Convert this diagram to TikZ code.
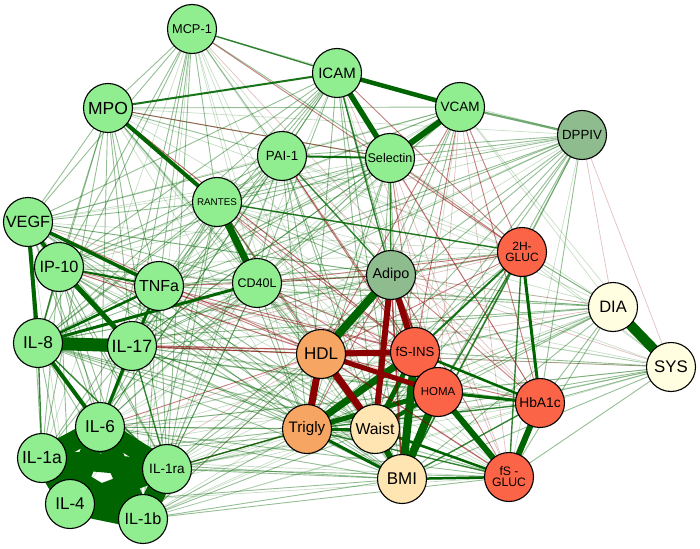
\documentclass[tikz,border=0pt]{standalone}
\usepackage{fontspec}
\setmainfont{Liberation Sans}
\pgfdeclarelayer{bg}
\pgfsetlayers{bg,main}
\definecolor{lg}{RGB}{144,238,144}
\definecolor{sg}{RGB}{143,188,143}
\definecolor{orn}{RGB}{246,166,98}
\definecolor{tom}{RGB}{252,100,72}
\definecolor{moc}{RGB}{254,229,178}
\definecolor{lyl}{RGB}{255,254,224}
\definecolor{dg}{RGB}{0,100,0}
\definecolor{dr}{RGB}{139,0,0}
\tikzset{
 nd/.style={circle, draw=black, line width=1.1pt, minimum size=49pt, inner sep=0pt, align=center},
 fs/.style={font=\fontsize{#1}{#1}\selectfont},
 tg/.style={draw=dg, line width=0.9pt, draw opacity=0.42},
 fgr/.style={draw=dg, line width=0.7pt, draw opacity=0.22},
 mgr/.style={draw=dg, line width=1.4pt, draw opacity=0.8},
 tred/.style={draw=dr, line width=0.9pt, draw opacity=0.5},
 fred/.style={draw=dr, line width=0.7pt, draw opacity=0.25},
}
\begin{document}
\begin{tikzpicture}[x=1pt,y=-1pt]
\useasboundingbox (0,0) rectangle (700,548);
% nodes
\node[nd, fill=lg, fs=12.8] (mcp) at (192,29) {MCP-1};
\node[nd, fill=lg, fs=15] (icam) at (337,73) {ICAM};
\node[nd, fill=lg, fs=17.5] (mpo) at (108,108) {MPO};
\node[nd, fill=lg, fs=13.5] (vcam) at (460,107) {VCAM};
\node[nd, fill=sg, fs=13.3] (dppiv) at (582,135) {DPPIV};
\node[nd, fill=lg, fs=13.3] (pai) at (282,156) {PAI-1};
\node[nd, fill=lg, fs=12.6] (sel) at (390,158) {Selectin};
\node[nd, fill=lg, fs=9.8] (rantes) at (217,202) {RANTES};
\node[nd, fill=lg, fs=16.3] (vegf) at (28,222) {VEGF};
\node[nd, fill=tom, font=\fontsize{12}{11}\selectfont] (gluc2) at (522,252) {2H-\\GLUC};
\node[nd, fill=lg, fs=16.3] (ip) at (59,267) {IP-10};
\node[nd, fill=sg, fs=14.4] (adipo) at (391,275) {Adipo};
\node[nd, fill=lg, fs=12.5] (cd) at (257,283) {CD40L};
\node[nd, fill=lg, fs=16] (tnf) at (159,286) {TNFa};
\node[nd, fill=lyl, fs=16.5] (dia) at (613,307) {DIA};
\node[nd, fill=lg, fs=17.2] (il8) at (38,343) {IL-8};
\node[nd, fill=lg, fs=17.8] (il17) at (132,346) {IL-17};
\node[nd, fill=orn, fs=17] (hdl) at (321,354) {HDL};
\node[nd, fill=tom, fs=13.2] (ins) at (415,352) {fS-INS};
\node[nd, fill=lyl, fs=16.8] (sys) at (671,367) {SYS};
\node[nd, fill=tom, fs=11.5] (homa) at (438,392) {HOMA};
\node[nd, fill=tom, fs=13.8] (hba) at (540,403) {HbA1c};
\node[nd, fill=lg, fs=17.2] (il6) at (100,427) {IL-6};
\node[nd, fill=orn, fs=15.2] (tri) at (307,429) {Trigly};
\node[nd, fill=moc, fs=15.8] (waist) at (375,429) {Waist};
\node[nd, fill=lg, fs=17.5] (il1a) at (42,458) {IL-1a};
\node[nd, fill=lg, fs=13.6] (il1ra) at (167,469) {IL-1ra};
\node[nd, fill=moc, fs=17] (bmi) at (402,479) {BMI};
\node[nd, fill=tom, font=\fontsize{12.2}{11}\selectfont] (fsg) at (509,477) {fS -\\GLUC};
\node[nd, fill=lg, fs=17] (il4) at (70,504) {IL-4};
\node[nd, fill=lg, fs=16.2] (il1b) at (143,519) {IL-1b};

\begin{pgfonlayer}{bg}
% faint green
\foreach \a/\b in {mcp/vcam,mcp/adipo,mcp/hdl,mcp/tri,mcp/il1a,mcp/il1b,mcp/bmi,mcp/ins,
 icam/dppiv,icam/homa,mpo/adipo,mpo/hdl,mpo/tri,mpo/bmi,mpo/waist,mpo/dppiv,
 vcam/bmi,vcam/il8,vcam/ip,vcam/vegf,vcam/dia,vcam/sys,pai/gluc2,pai/dia,
 sel/dia,sel/sys,sel/il6,dppiv/fsg,dppiv/il6,dppiv/ip,dppiv/vegf,
 rantes/hba,rantes/fsg,rantes/dia,rantes/sys,vegf/il4,vegf/gluc2,vegf/dia,
 ip/adipo,ip/hba,ip/fsg,ip/dia,ip/sys,tnf/hba,tnf/fsg,tnf/sys,
 cd/il4,cd/hba,cd/fsg,cd/sys,il8/adipo,il6/ins,il6/hba,il6/dia,il6/sys,il6/adipo,
 il1a/fsg,il1a/homa,il1ra/ins,il1ra/hba,il1ra/dia,il1ra/sys,il4/tri,il4/waist,il4/fsg,
 il1b/hba,il1b/homa,il1b/ins,il1b/adipo,il1b/sys,il1b/dia,gluc2/dia,gluc2/sys,
 il17/homa,vegf/sel,mpo/gluc2,il8/sys,il17/sys,ip/gluc2,il4/homa,il1a/ins,tnf/vcam,
 mcp/cd,icam/il1b,pai/il1b,sel/il1a,vcam/il6,rantes/il4,cd/dppiv,il1ra/gluc2}
 \draw[fgr] (\a.center) -- (\b.center);
% faint red
\foreach \a/\b in {mcp/hba,mpo/homa,vcam/homa,vcam/fsg,sel/fsg,icam/hba,icam/fsg,
 dppiv/sys,dppiv/dia,rantes/homa,vegf/ins,tnf/homa,il1a/hdl,il4/hdl,il1b/hdl,
 adipo/dia,adipo/sys,hdl/dia,hdl/sys,pai/hba,sel/homa,mpo/ins,il17/gluc2,ip/homa}
 \draw[fred] (\a.center) -- (\b.center);
% thin green
\foreach \a/\b in {mcp/ip,mcp/vegf,mcp/il8,mcp/rantes,mcp/tnf,mcp/il17,mcp/sel,mcp/pai,mcp/il6,mcp/il1ra,mcp/mpo,
 icam/pai,icam/rantes,icam/cd,icam/tnf,icam/il17,icam/ip,icam/vegf,icam/ins,icam/waist,icam/bmi,icam/tri,icam/il8,icam/il6,
 mpo/vegf,mpo/ip,mpo/tnf,mpo/il17,mpo/cd,mpo/pai,mpo/sel,mpo/vcam,mpo/il8,mpo/il6,mpo/il1a,mpo/il1ra,
 vcam/pai,vcam/rantes,vcam/cd,vcam/il17,vcam/adipo,vcam/tri,vcam/waist,
 pai/rantes,pai/cd,pai/tnf,pai/il17,pai/il8,pai/ip,pai/vegf,pai/hdl,pai/tri,pai/waist,pai/bmi,pai/dppiv,pai/il6,pai/il1ra,
 sel/rantes,sel/cd,sel/tnf,sel/il17,sel/il8,sel/ip,sel/hdl,sel/tri,sel/waist,sel/bmi,sel/dppiv,
 dppiv/rantes,dppiv/tnf,dppiv/il17,dppiv/il8,dppiv/adipo,dppiv/hdl,dppiv/tri,dppiv/waist,dppiv/bmi,dppiv/ins,dppiv/homa,dppiv/gluc2,dppiv/hba,
 rantes/tnf,rantes/il17,rantes/il8,rantes/ip,rantes/vegf,rantes/il6,rantes/il1ra,rantes/il1b,rantes/adipo,rantes/tri,rantes/waist,rantes/bmi,rantes/gluc2,
 vegf/cd,vegf/il17,vegf/il6,vegf/il1a,vegf/il1ra,vegf/il1b,vegf/adipo,vegf/tri,vegf/waist,vegf/bmi,
 ip/cd,ip/il6,ip/il1a,ip/il1ra,ip/il1b,ip/il4,ip/tri,ip/waist,ip/bmi,
 tnf/il1a,tnf/il1ra,tnf/il1b,tnf/il4,tnf/adipo,tnf/tri,tnf/waist,tnf/bmi,tnf/gluc2,tnf/dia,
 cd/il17,cd/il6,cd/il1a,cd/il1ra,cd/il1b,cd/hdl,cd/tri,cd/waist,cd/bmi,cd/dia,
 il8/il1b,il8/il4,il8/tri,il8/waist,il8/bmi,il8/homa,il8/hba,il8/fsg,il8/gluc2,il8/dia,
 il17/il1a,il17/il1b,il17/il4,il17/tri,il17/waist,il17/bmi,il17/hba,il17/fsg,il17/dia,il17/adipo,
 il6/tri,il6/waist,il6/bmi,il6/homa,il6/fsg,
 il1a/tri,il1a/waist,il1a/bmi,
 il1ra/waist,il1ra/bmi,il1ra/fsg,il1ra/homa,il1ra/adipo,il1ra/hdl,
 il4/bmi,il1b/tri,il1b/waist,il1b/bmi,il1b/fsg,
 gluc2/tri,gluc2/waist,
 dia/ins,dia/homa,dia/hba,dia/fsg,dia/bmi,dia/waist,dia/tri,dia/gluc2,
 sys/ins,sys/homa,sys/hba,sys/fsg,sys/bmi,sys/waist,sys/tri,
 adipo/cd,hdl/il1b}
 \draw[tg] (\a.center) -- (\b.center);
% thin red
\foreach \a/\b in {mcp/gluc2,icam/gluc2,mpo/ins,vcam/hdl,vcam/gluc2,vcam/ins,vcam/hba,
 pai/ins,pai/homa,sel/ins,sel/gluc2,sel/hba,rantes/hdl,rantes/ins,vegf/hdl,
 ip/hdl,ip/ins,tnf/cd,tnf/hdl,tnf/ins,cd/adipo,cd/ins,cd/homa,cd/gluc2,
 il8/hdl,il8/ins,il17/hdl,il17/ins,il6/hdl,il1ra/tri,
 adipo/tri,adipo/gluc2,adipo/hba,adipo/fsg,hdl/gluc2,hdl/hba,mpo/sel}
 \draw[tred] (\a.center) -- (\b.center);
% medium green
\foreach \a/\b in {mcp/icam,pai/adipo,icam/adipo,sel/adipo,il1a/il8,il8/il1ra,il17/il1ra,il6/tnf,
 il1ra/tri,tri/fsg,tri/hba,bmi/hba,gluc2/homa,gluc2/bmi,gluc2/fsg,ip/il8,rantes/gluc2}
 \draw[mgr] (\a.center) -- (\b.center);
% thick green
\foreach \a/\b/\w/\o in {dia/sys/10/1,il8/il17/13/1,
 il6/il1a/20/1,il6/il1ra/19/1,il6/il4/20/1,il6/il1b/20/1,il1a/il1ra/18/1,il1a/il4/20/1,
 il1a/il1b/19/1,il1ra/il4/18/1,il1ra/il1b/20/1,il4/il1b/20/1,
 rantes/cd/7/1,mpo/rantes/4/1,icam/vcam/4.5/1,icam/sel/5.5/1,vcam/sel/6/1,
 vegf/tnf/3.5/1,vegf/il8/4/1,vegf/ip/4/1,ip/il17/5/1,il8/cd/3/1,il8/tnf/2.5/1,
 il8/il6/4/1,il17/il6/3/1,tnf/il17/2.5/1,ip/tnf/2/1,mpo/icam/2/0.9,pai/sel/2/0.95,
 vcam/dppiv/2.2/0.55,adipo/hdl/8/1,tri/ins/7/1,waist/bmi/6/1,ins/bmi/8/1,homa/bmi/8/1,
 homa/fsg/6/1,hba/fsg/6/1,gluc2/hba/3/1,homa/hba/3/1,ins/hba/2.5/1,bmi/fsg/2.5/1,
 tri/homa/5/1,tri/bmi/3/1,waist/ins/5/1,waist/homa/4/1,waist/fsg/2.5/1,tri/waist/3/1,
 gluc2/ins/2/0.9,ins/homa/8/1}
 \draw[draw=dg, line width=\w pt, draw opacity=\o] (\a.center) -- (\b.center);
% thick red
\foreach \a/\b/\w/\o in {adipo/ins/6/1,adipo/waist/6/1,hdl/ins/6/1,hdl/tri/7/1,
 hdl/waist/7/1,hdl/homa/5/1,adipo/homa/2/0.8,adipo/bmi/1.5/0.7,hdl/fsg/1.2/0.6}
 \draw[draw=dr, line width=\w pt, draw opacity=\o] (\a.center) -- (\b.center);
\end{pgfonlayer}
\end{tikzpicture}
\end{document}
